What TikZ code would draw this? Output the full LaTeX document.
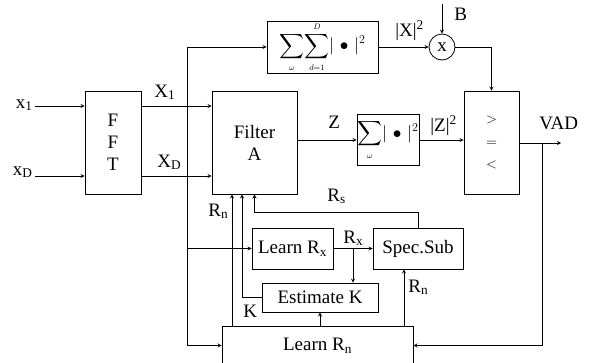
\documentclass[tikz,border=0pt]{standalone}
\usepackage{amsmath}
\usepackage{fontspec}
\setmainfont{Liberation Serif}
\usetikzlibrary{calc}

\begin{document}
\begin{tikzpicture}[x=1pt, y=-1pt, >=stealth, line width=0.8pt,
                font=\fontsize{19}{22}\selectfont,
                block/.style={rectangle, draw, inner sep=0pt, align=center},
                sumblock/.style={block, font=\fontsize{16.5}{20}\selectfont},
                lbl/.style={inner sep=0pt, anchor=base west}
            ]
            \useasboundingbox (0,0) rectangle (591,362);
            \clip (0,0) rectangle (591,362);

            % FFT and filter
            \node[block, minimum width=56pt, minimum height=103pt] (fft) at (113,142.5) {F\\F\\T};
            \node[block, minimum width=85pt, minimum height=103pt] (filter) at (254.5,142.5) {Filter\\A};

            % Power sums
            \node[sumblock, minimum width=111pt, minimum height=52pt] (sumx) at (322.5,47)
                {$\displaystyle\sum_{\scriptscriptstyle\omega}\!\sum_{\scriptscriptstyle d=1}^{\scriptscriptstyle D}\!|\mkern2mu\bullet\mkern2mu|^{2}$};
            \node[draw, circle, minimum size=26pt, inner sep=0pt] (mult) at (442,47) {x};
            \node[sumblock, minimum width=62pt, minimum height=51pt] (sumz) at (388,140)
                {$\displaystyle\sum_{\scriptscriptstyle\omega}\!|\mkern2mu\bullet\mkern2mu|^{2}$};

            % Decision
            \node[block, minimum width=55pt, minimum height=103pt, font=\fontsize{15}{22.5}\selectfont] (comp) at (491.5,142.5) {$>$\\$=$\\$<$};

            % Noise estimation
            \node[block, minimum width=81pt, minimum height=41pt] (lrx) at (292.5,248.5) {Learn R\textsubscript{x}};
            \node[block, minimum width=90pt, minimum height=41pt] (spec) at (418,248.5) {Spec.Sub};
            \node[block, minimum width=116pt, minimum height=29pt] (estk) at (320,297.5) {Estimate K};
            \node[block, minimum width=191pt, minimum height=39pt] (lrn) at (317.5,345.5) {Learn R\textsubscript{n}};

            % Inputs
            \coordinate (in1) at (35,106);
            \coordinate (inD) at (35,176);
            \node[lbl, anchor=base east] (x1) at (33,108) {x\textsubscript{1}};
            \node[lbl, anchor=base east] (xD) at (33,175) {x\textsubscript{D}};
            \draw[->] (in1) -- (in1 -| fft.west);
            \draw[->] (inD) -- (inD -| fft.west);

            % FFT -> filter
            \draw[->] (in1 -| fft.east) -- (in1 -| filter.west);
            \draw[->] (inD -| fft.east) -- (inD -| filter.west);
            \node[lbl] (X1) at (154,97) {X\textsubscript{1}};
            \node[lbl] (XD) at (157,167) {X\textsubscript{D}};

            % Bus
            \coordinate (bus) at (187,0);
            \draw[->] (bus |- lrn.west) |- (sumx.west);
            \draw[->] (bus |- lrn.west) -- (lrn.west);
            \draw[->] (bus |- lrx.west) -- (lrx.west);

            % Upper path
            \draw[->] (sumx.east) -- (mult.west);
            \node[lbl] (X2) at (395,36) {|X|\textsuperscript{2}};
            \coordinate (btop) at (442,4);
            \draw[->] (btop) -- (mult.north);
            \node[lbl] (B) at (454,20) {B};
            \draw[->] (mult.east) -| (comp.north);

            % Middle path
            \draw[->] (filter.east |- sumz.west) -- (sumz.west);
            \node[lbl] (Z) at (328,128) {Z};
            \draw[->] (sumz.east) -- (comp.west |- sumz.east);
            \node[lbl] (Z2) at (430,131) {|Z|\textsuperscript{2}};
            \coordinate (out) at (561,143);
            \draw[->] (comp.east |- out) -- (out);
            \node[lbl] (vad) at (539,129) {VAD};

            % Feedback
            \coordinate (fb) at (542,0);
            \draw[->] (fb |- out) |- (lrn.east);

            % Lower loop
            \draw[->] (lrx.east) -- (spec.west);
            \node[lbl] (Rx) at (343,243) {R\textsubscript{x}};
            \coordinate (rxtap) at (353,0);
            \draw[->] (rxtap |- lrx.east) -- (rxtap |- estk.north);

            \coordinate (rsrow) at (0,212);
            \draw[->] (spec.north) -- (spec.north |- rsrow) -| (filter.south);
            \node[lbl] (Rs) at (327,201) {R\textsubscript{s}};

            \coordinate (kcol) at (242,0);
            \draw[->] (estk.west) -| (kcol |- filter.south);
            \node[lbl] (K) at (243,317) {K};

            \coordinate (rncol) at (232,0);
            \draw[->] (rncol |- lrn.north) -- (rncol |- filter.south);
            \node[lbl] (Rn1) at (208,216) {R\textsubscript{n}};

            \draw[->] (lrn.north -| estk.south) -- (estk.south);

            \coordinate (rnspec) at (404,0);
            \draw[->] (rnspec |- lrn.north) -- (rnspec |- spec.south);
            \node[lbl] (Rn2) at (408,292) {R\textsubscript{n}};

        \end{tikzpicture}
\end{document}
